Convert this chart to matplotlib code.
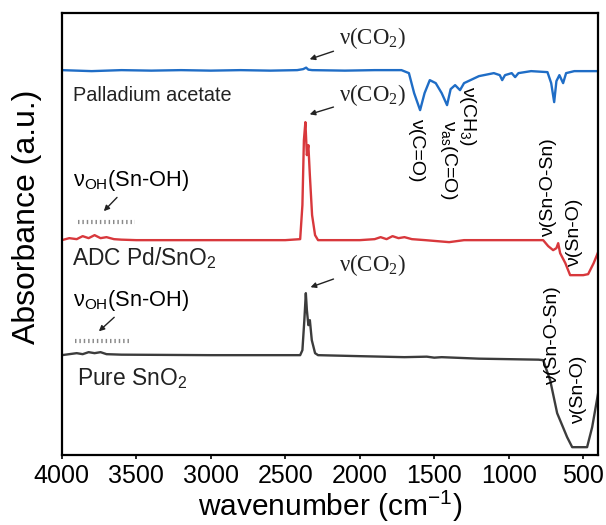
import numpy as np
import matplotlib
matplotlib.use("Agg")
import matplotlib.pyplot as plt

plt.rcParams['font.family'] = ['Liberation Sans', 'DejaVu Sans']

# wavenumber (cm-1) / absorbance (a.u., offset already included)
pd_wn = [4000, 3800, 3600, 3400, 3200, 3000, 2800, 2600, 2420, 2380, 2360, 2345, 2320, 2100,
         1900, 1720, 1670, 1635, 1595, 1565, 1530, 1490, 1450, 1414, 1390, 1360, 1327, 1300,
         1200, 1100, 1060, 1044, 1025, 980, 957, 935, 850, 740, 715, 695, 680, 660, 635, 615,
         560, 480, 400]
pd_ab = [3.85, 3.84, 3.85, 3.845, 3.85, 3.845, 3.85, 3.845, 3.85, 3.86, 3.875, 3.855, 3.85, 3.845,
         3.85, 3.85, 3.82, 3.62, 3.45, 3.62, 3.75, 3.72, 3.62, 3.50, 3.66, 3.70, 3.65, 3.72,
         3.79, 3.82, 3.80, 3.75, 3.80, 3.82, 3.78, 3.82, 3.84, 3.83, 3.72, 3.53, 3.74, 3.80, 3.72, 3.82,
         3.84, 3.84, 3.84]

adc_wn = [4000, 3950, 3900, 3860, 3820, 3780, 3740, 3700, 3650, 3600, 3500, 3000, 2500, 2400,
          2385, 2375, 2365, 2355, 2345, 2335, 2320, 2300, 2280, 2000, 1900, 1860, 1820, 1780,
          1740, 1700, 1650, 1560, 1480, 1400, 1300, 1100, 900, 800, 769, 735, 702, 680, 668,
          655, 620, 588, 500, 467, 430, 400]
adc_ab = [2.15, 2.17, 2.16, 2.19, 2.17, 2.20, 2.17, 2.18, 2.16, 2.155, 2.15, 2.15, 2.15, 2.16,
          2.5, 3.15, 3.33, 3.0, 3.1, 2.8, 2.4, 2.2, 2.15, 2.15, 2.16, 2.18, 2.16, 2.19,
          2.17, 2.18, 2.16, 2.15, 2.14, 2.13, 2.15, 2.15, 2.15, 2.15, 2.15, 2.09, 2.05, 2.07, 2.12,
          2.02, 1.92, 1.80, 1.80, 1.81, 1.92, 2.03]

sno2_wn = [4000, 3950, 3900, 3860, 3820, 3780, 3740, 3700, 3600, 3000, 2500, 2400, 2385, 2372,
           2362, 2355, 2345, 2335, 2322, 2300, 2280, 2000, 1700, 1550, 1500, 1450, 1200, 1000,
           800, 769, 722, 675, 608, 574, 474, 440, 400]
sno2_ab = [1.00, 1.01, 1.02, 1.01, 1.03, 1.02, 1.03, 1.01, 1.005, 1.00, 1.00, 1.00, 1.05, 1.35,
           1.62, 1.45, 1.30, 1.35, 1.15, 1.02, 1.00, 0.99, 0.98, 0.985, 0.975, 0.98, 0.965, 0.96,
           0.955, 0.95, 0.75, 0.42, 0.18, 0.08, 0.08, 0.28, 0.62]

fig = plt.figure(figsize=(6.06, 5.25), dpi=100)
ax = fig.add_axes([0.102, 0.133, 0.885, 0.842])

ax.plot(pd_wn, pd_ab, color='#1f6dc6', lw=1.7)
ax.plot(adc_wn, adc_ab, color='#d8383c', lw=1.7)
ax.plot(sno2_wn, sno2_ab, color='#3c3c3c', lw=1.7)

ax.set_xlim(4000, 400)
ax.set_ylim(0, 4.42)
ax.set_xticks([4000, 3500, 3000, 2500, 2000, 1500, 1000, 500])
ax.set_yticks([])
ax.tick_params(axis='x', labelsize=18, length=3, width=1.2, direction='out', pad=3)
for s in ax.spines.values():
    s.set_linewidth(1.6)
ax.set_xlabel(r'wavenumber (cm$\mathregular{^{-1}}$)', fontsize=21.5, labelpad=1)
ax.set_ylabel('Absorbance (a.u.)', fontsize=23)
ax.yaxis.set_label_coords(-0.037, 0.54)

serif = ['Liberation Serif', 'DejaVu Serif']
arr = dict(arrowstyle='-|>', color='#222222', lw=1.0, mutation_scale=8)

# sample names
ax.text(3926, 3.60, 'Palladium acetate', fontsize=14.3, va='center', ha='left', color='#222222')
ax.text(3933, 1.97, r'ADC Pd/SnO$\mathregular{_2}$', fontsize=16.4, va='center', ha='left', color='#222222')
ax.text(3899, 0.77, r'Pure SnO$\mathregular{_2}$', fontsize=16.4, va='center', ha='left', color='#222222')

# CO2 labels
for tip, lab in [((2354, 3.95), (2140, 4.17)), ((2354, 3.40), (2140, 3.60)), ((2348, 1.67), (2140, 1.90))]:
    ax.annotate(r'ν(CO$\mathregular{_2}$)', xy=tip, xytext=lab, fontsize=16.5,
                family=serif, va='center', ha='left', arrowprops=arr, color='#222222')

# OH labels
ax.annotate(r'ν$\mathregular{_{OH}}$(Sn-OH)', xy=(3731, 2.42), xytext=(3926, 2.75), fontsize=15.7,
            va='center', ha='left', arrowprops=dict(arrowstyle='-|>', color='#222222', lw=1.0,
                                                    mutation_scale=8, relpos=(0.42, 0.0)))
ax.annotate(r'ν$\mathregular{_{OH}}$(Sn-OH)', xy=(3765, 1.22), xytext=(3926, 1.55), fontsize=15.7,
            va='center', ha='left', arrowprops=dict(arrowstyle='-|>', color='#222222', lw=1.0,
                                                    mutation_scale=8, relpos=(0.40, 0.0)))
ax.plot([3893, 3510], [2.33, 2.33], lw=3, ls=(0, (0.35, 0.7)), color='#8a8a8a', dash_capstyle='butt')
ax.plot([3913, 3537], [1.14, 1.14], lw=3, ls=(0, (0.35, 0.7)), color='#8a8a8a', dash_capstyle='butt')

# band assignments
ax.text(1622, 3.37, 'ν(C=O)', rotation=270, fontsize=14, ha='center', va='top')
ax.text(1407, 3.35, r'ν$\mathregular{_{as}}$(C=O)', rotation=270, fontsize=14, ha='center', va='top')
ax.text(1280, 3.69, r'ν(CH$\mathregular{_3}$)', rotation=270, fontsize=14, ha='center', va='top')
ax.text(732, 2.68, 'ν(Sn-O-Sn)', rotation=90, fontsize=14, ha='center', va='center')
ax.text(560, 2.22, 'ν(Sn-O)', rotation=90, fontsize=14, ha='center', va='center')
ax.text(706, 1.20, 'ν(Sn-O-Sn)', rotation=90, fontsize=14, ha='center', va='center')
ax.text(530, 0.65, 'ν(Sn-O)', rotation=90, fontsize=14, ha='center', va='center')

fig.savefig('out.png', dpi=100)
